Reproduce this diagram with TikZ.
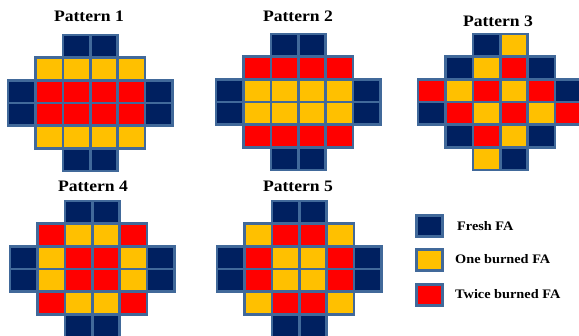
\documentclass[tikz,border=0pt]{standalone}
\usepackage{fontspec}
\setmainfont{Liberation Serif}[FakeStretch=1.1]
\definecolor{colB}{HTML}{002060}
\definecolor{colY}{HTML}{FFC000}
\definecolor{colR}{HTML}{FF0000}
\definecolor{edgecol}{HTML}{41699A}
\tikzset{
  cell/.style={draw=edgecol, line width=2.6pt, minimum width=27.4pt, minimum height=22.7pt, inner sep=0pt},
  legbox/.style={draw=edgecol, line width=2.6pt, minimum width=26pt, minimum height=21pt, inner sep=0pt},
  ptitle/.style={anchor=base, inner sep=0pt, font=\fontsize{16}{18}\selectfont\bfseries},
  legtext/.style={anchor=base west, inner sep=0pt, font=\fontsize{13}{15}\selectfont\bfseries}
}
\newcommand{\drawpattern}[4]{%
  \foreach \rowlist [count=\ri from 0] in {#4} {
    \foreach \cc [count=\ci from 0] in \rowlist {
      \if\cc N\else
        \node[cell, fill=col\cc] (#1-\ri-\ci) at ({#2+27.4*\ci+13.7},{#3+22.7*\ri+11.35}) {};
      \fi
    }
  }
}
\begin{document}
\begin{tikzpicture}[x=1pt, y=-1pt]
\clip (0,0) rectangle (579,336);
\fill[white] (0,0) rectangle (579,336);
% titles
\node[ptitle] (t1) at (89,22) {Pattern 1};
\node[ptitle] (t2) at (298,22) {Pattern 2};
\node[ptitle] (t3) at (498,26.5) {Pattern 3};
\node[ptitle] (t4) at (93,191.5) {Pattern 4};
\node[ptitle] (t5) at (298,191.5) {Pattern 5};
% patterns
\drawpattern{p1}{8}{35}{{N,N,B,B,N,N},{N,Y,Y,Y,Y,N},{B,R,R,R,R,B},{B,R,R,R,R,B},{N,Y,Y,Y,Y,N},{N,N,B,B,N,N}}
\drawpattern{p2}{216}{34}{{N,N,B,B,N,N},{N,R,R,R,R,N},{B,Y,Y,Y,Y,B},{B,Y,Y,Y,Y,B},{N,R,R,R,R,N},{N,N,B,B,N,N}}
\drawpattern{p3}{418}{34}{{N,N,B,Y,N,N},{N,B,Y,R,B,N},{R,Y,R,Y,R,B},{B,R,Y,R,Y,R},{N,B,R,Y,B,N},{N,N,Y,B,N,N}}
\drawpattern{p4}{10}{201}{{N,N,B,B,N,N},{N,R,Y,Y,R,N},{B,Y,R,R,Y,B},{B,Y,R,R,Y,B},{N,R,Y,Y,R,N},{N,N,B,B,N,N}}
\drawpattern{p5}{217}{201}{{N,N,B,B,N,N},{N,Y,R,R,Y,N},{B,R,Y,Y,R,B},{B,R,Y,Y,R,B},{N,Y,R,R,Y,N},{N,N,B,B,N,N}}
% legend
\node[legbox, fill=colB] (lb1) at (429.5,226) {};
\node[legbox, fill=colY] (lb2) at (429.5,260) {};
\node[legbox, fill=colR] (lb3) at (429.5,295) {};
\node[legtext] (lt1) at (457,231) {Fresh FA};
\node[legtext] (lt2) at (455,264) {One burned FA};
\node[legtext] (lt3) at (455,299) {Twice burned FA};
\end{tikzpicture}
\end{document}
